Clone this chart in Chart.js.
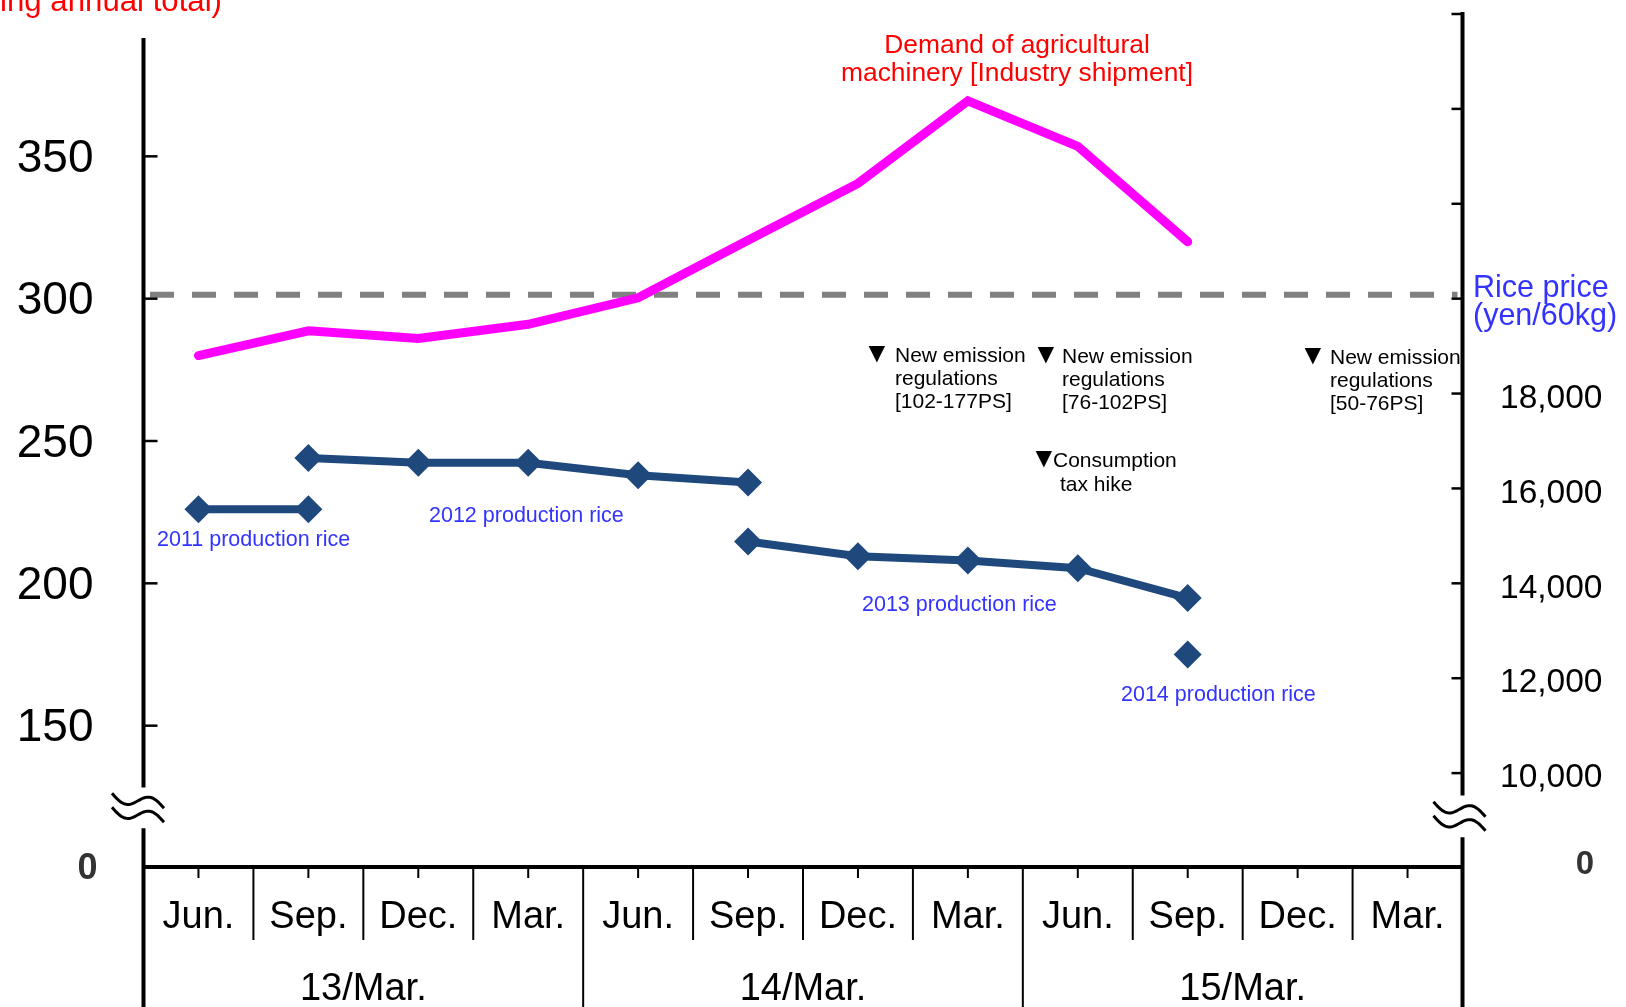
<!DOCTYPE html>
<html>
<head>
<meta charset="utf-8">
<title>Agricultural machinery demand and rice price</title>
<script src="https://cdn.jsdelivr.net/npm/chart.js@4.4.1/dist/chart.umd.min.js"></script>
<style>
  html, body { margin: 0; padding: 0; background: #fff; }
  canvas { display: block; }
</style>
</head>
<body>
<canvas id="chart" width="1626" height="1007"></canvas>
<script>
"use strict";

const MONTHS = ["Jun.", "Sep.", "Dec.", "Mar.", "Jun.", "Sep.", "Dec.", "Mar.",
  "Jun.", "Sep.", "Dec.", "Mar."];
const YEARS = ["13/Mar.", "14/Mar.", "15/Mar."];

// demand of agricultural machinery (left axis)
const MACHINERY = [280, 288.7, 286, 291, 300.3, 320.5, 340.5, 369.5, 353.5, 320, null, null];

// rice price by crop year (right axis, yen/60kg)
const RICE_2011 = [15560, 15560, null, null, null, null, null, null, null, null, null, null];
const RICE_2012 = [null, 16640, 16540, 16540, 16280, 16125, null, null, null, null, null, null];
const RICE_2013 = [null, null, null, null, null, 14880, 14570, 14480, 14320, 13690, null, null];
const RICE_2014 = [null, null, null, null, null, null, null, null, null, 12500, null, null];

const LEFT_LABELS = [150, 200, 250, 300, 350];
const RIGHT_LABELS = [10000, 12000, 14000, 16000, 18000];
const ZERO_LABEL = "0";

// dashed reference level, on the left axis
const REF_LEVEL = 301.4;
// where each axis is cut (axis values)
const LEFT_BREAK = [114, 128.3];
const RIGHT_BREAK = [8650, 9530];
const LEFT_AXIS_TOP = 391.6;

const FONT = "'Liberation Sans', Arial, sans-serif";
const RED = "#FF0000";
const BLUE_TEXT = "#3333FF";
const NAVY = "#1F497D";
const MAGENTA = "#FF00FF";

const NOTES = [
  {lines: ["(Billion yen, moving annual total)"], x: 222, y: 11, size: 31.2, color: RED, align: "right"},
  {lines: ["Demand of agricultural", "machinery [Industry shipment]"], x: 1017, y: 53, lh: 28, size: 26.4,
    color: RED, align: "center"},
  {lines: ["Rice price", "(yen/60kg)"], x: 1473, y: 297, lh: 28, size: 30.5, color: BLUE_TEXT},
  {lines: ["2011 production rice"], x: 157, y: 546, size: 21.5, color: BLUE_TEXT},
  {lines: ["2012 production rice"], x: 429, y: 522, size: 21.5, color: BLUE_TEXT},
  {lines: ["2013 production rice"], x: 862, y: 611, size: 21.5, color: BLUE_TEXT},
  {lines: ["2014 production rice"], x: 1121, y: 701, size: 21.5, color: BLUE_TEXT},
  {lines: ["New emission", "regulations", "[102-177PS]"], x: 895, y: 362, lh: 23, size: 21, mark: 863},
  {lines: ["New emission", "regulations", "[76-102PS]"], x: 1062, y: 363, lh: 23, size: 21, mark: 1032},
  {lines: ["New emission", "regulations", "[50-76PS]"], x: 1330, y: 364, lh: 23, size: 21, mark: 1299},
  {lines: ["Consumption"], x: 1053, y: 467, size: 21, mark: 1030},
  {lines: ["tax hike"], x: 1060, y: 491, size: 21}
];

window.addEventListener("load", init);

function init() {
  new Chart(document.getElementById("chart"), {
    type: "line",
    data: {
      labels: MONTHS,
      datasets: [
        {
          label: "Demand of agricultural machinery",
          data: MACHINERY,
          yAxisID: "y",
          borderColor: MAGENTA,
          borderWidth: 9,
          borderJoinStyle: "miter",
          borderCapStyle: "round",
          pointRadius: 0,
          tension: 0
        },
        riceSet("2011 production rice", RICE_2011),
        riceSet("2012 production rice", RICE_2012),
        riceSet("2013 production rice", RICE_2013),
        riceSet("2014 production rice", RICE_2014),
        {
          label: "2011 inner mark",
          data: RICE_2011,
          yAxisID: "y2",
          showLine: false,
          pointStyle: "rectRot",
          pointRadius: 4.5,
          pointBorderWidth: 0,
          pointBackgroundColor: "#0000FF"
        }
      ]
    },
    options: {
      responsive: false,
      animation: false,
      events: [],
      layout: {padding: {top: 10, left: 0, right: 0, bottom: 0}},
      plugins: {
        legend: {display: false},
        tooltip: {enabled: false}
      },
      scales: {
        x: {
          offset: true,
          grid: {display: false, drawTicks: false},
          border: {display: false},
          ticks: {
            autoSkip: false,
            maxRotation: 0,
            padding: 26.5,
            color: "#000",
            font: {family: FONT, size: 38}
          },
          afterFit: s => fixSize(s, "height", 72)
        },
        x2: {
          type: "category",
          labels: YEARS,
          position: "bottom",
          offset: true,
          grid: {display: false, drawTicks: false},
          border: {display: false},
          ticks: {
            autoSkip: false,
            maxRotation: 0,
            padding: 26.5,
            color: "#000",
            font: {family: FONT, size: 38}
          },
          afterFit: s => fixSize(s, "height", 67)
        },
        y: {
          position: "left",
          min: 100,
          max: 400,
          grid: {display: false, drawTicks: false},
          border: {display: false},
          ticks: {
            stepSize: 50,
            padding: 50,
            labelOffset: 3,
            color: "#000",
            font: {family: FONT, size: 46},
            callback: v => LEFT_LABELS.includes(v) ? String(v) : ""
          },
          afterFit: s => fixSize(s, "width", 143.5)
        },
        y2: {
          position: "right",
          min: 8000,
          max: 26000,
          grid: {display: false, drawTicks: false},
          border: {display: false},
          ticks: {
            stepSize: 2000,
            padding: 37.5,
            labelOffset: 5,
            color: "#000",
            font: {family: FONT, size: 33.5},
            callback: v => RIGHT_LABELS.includes(v) ? v.toLocaleString("en-US") : ""
          },
          afterFit: s => fixSize(s, "width", 163.5)
        }
      }
    },
    plugins: [decorations]
  });
}

// pin an axis box size and drop the label overhang padding
function fixSize(scale, prop, size) {
  scale[prop] = size;
  scale.paddingTop = 0;
  scale.paddingBottom = 0;
  scale.paddingLeft = 0;
  scale.paddingRight = 0;
}

function riceSet(label, data) {
  return {
    label: label,
    data: data,
    yAxisID: "y2",
    borderColor: NAVY,
    borderWidth: 8,
    borderJoinStyle: "miter",
    pointStyle: "rectRot",
    pointRadius: 14,
    pointBorderWidth: 0,
    pointBackgroundColor: NAVY,
    tension: 0
  };
}

const decorations = {
  id: "decorations",
  beforeDatasetsDraw(chart) {
    const ctx = chart.ctx;
    const area = chart.chartArea;
    const y = chart.scales.y.getPixelForValue(REF_LEVEL);
    ctx.save();
    ctx.strokeStyle = "#808080";
    ctx.lineWidth = 6;
    ctx.setLineDash([24, 18]);
    ctx.lineDashOffset = 37.5;
    ctx.beginPath();
    ctx.moveTo(area.left + 2, y);
    ctx.lineTo(area.right - 5, y);
    ctx.stroke();
    ctx.restore();
  },
  afterDraw(chart) {
    drawAxes(chart);
    drawCategoryLines(chart);
    drawNotes(chart);
  }
};

function drawAxes(chart) {
  const ctx = chart.ctx;
  const area = chart.chartArea;
  const yL = chart.scales.y;
  const yR = chart.scales.y2;
  const h = chart.height;

  ctx.save();
  ctx.strokeStyle = "#000";
  ctx.lineWidth = 4;
  vLine(ctx, area.left, yL.getPixelForValue(LEFT_AXIS_TOP), yL.getPixelForValue(LEFT_BREAK[1]));
  vLine(ctx, area.left, yL.getPixelForValue(LEFT_BREAK[0]), h);
  vLine(ctx, area.right, area.top - 2, yR.getPixelForValue(RIGHT_BREAK[1]));
  vLine(ctx, area.right, yR.getPixelForValue(RIGHT_BREAK[0]), h);
  hLine(ctx, area.left, area.right, area.bottom - 1);

  ctx.lineWidth = 2.5;
  yL.ticks.forEach(t => {
    if (t.value > yL.min && t.value < yL.max) {
      hLine(ctx, area.left, area.left + 14, yL.getPixelForValue(t.value));
    }
  });
  yR.ticks.forEach(t => {
    if (t.value > yR.min) {
      hLine(ctx, area.right - 11, area.right, yR.getPixelForValue(t.value));
    }
  });

  ctx.lineWidth = 3;
  squiggle(ctx, area.left - 5.5,
    (yL.getPixelForValue(LEFT_BREAK[0]) + yL.getPixelForValue(LEFT_BREAK[1])) / 2);
  squiggle(ctx, area.right - 3,
    (yR.getPixelForValue(RIGHT_BREAK[0]) + yR.getPixelForValue(RIGHT_BREAK[1])) / 2);

  ctx.fillStyle = "#333";
  ctx.textAlign = "center";
  ctx.textBaseline = "middle";
  ctx.font = "bold 36px " + FONT;
  ctx.fillText(ZERO_LABEL, 87.5, area.bottom + 1);
  ctx.font = "bold 33px " + FONT;
  ctx.fillText(ZERO_LABEL, 1585, area.bottom - 3);
  ctx.restore();
}

function drawCategoryLines(chart) {
  const ctx = chart.ctx;
  const x = chart.scales.x;
  const top = chart.chartArea.bottom;
  const w = x.getPixelForValue(1) - x.getPixelForValue(0);
  ctx.save();
  ctx.strokeStyle = "#000";
  ctx.lineWidth = 2;
  for (let i = 0; i < MONTHS.length; i++) {
    const c = x.getPixelForValue(i);
    vLine(ctx, c, top, top + 10);
    if (i > 0) {
      vLine(ctx, c - w / 2, top, i % 4 === 0 ? chart.height : x.bottom);
    }
  }
  ctx.restore();
}

function drawNotes(chart) {
  const ctx = chart.ctx;
  ctx.save();
  ctx.textBaseline = "alphabetic";
  NOTES.forEach(n => {
    ctx.font = n.size + "px " + FONT;
    ctx.fillStyle = n.color || "#000";
    ctx.textAlign = n.align || "left";
    n.lines.forEach((line, i) => {
      ctx.fillText(line, n.x, n.y + i * (n.lh || 0));
    });
    if (n.mark) {
      ctx.textAlign = "left";
      ctx.fillStyle = "#000";
      ctx.font = "28px " + FONT;
      ctx.fillText("▼", n.mark, n.y);
    }
  });
  ctx.restore();
}

function squiggle(ctx, cx, cy) {
  [-7, 7].forEach(off => {
    ctx.beginPath();
    for (let k = 0; k <= 40; k++) {
      const t = k / 40;
      const px = cx - 26 + 52 * t;
      const py = cy + off - 7.5 + 15 * t + 7 * Math.sin(2 * Math.PI * t);
      if (k === 0) {
        ctx.moveTo(px, py);
      } else {
        ctx.lineTo(px, py);
      }
    }
    ctx.stroke();
  });
}

function vLine(ctx, x, y1, y2) {
  ctx.beginPath();
  ctx.moveTo(x, y1);
  ctx.lineTo(x, y2);
  ctx.stroke();
}

function hLine(ctx, x1, x2, y) {
  ctx.beginPath();
  ctx.moveTo(x1, y);
  ctx.lineTo(x2, y);
  ctx.stroke();
}
</script>
</body>
</html>
